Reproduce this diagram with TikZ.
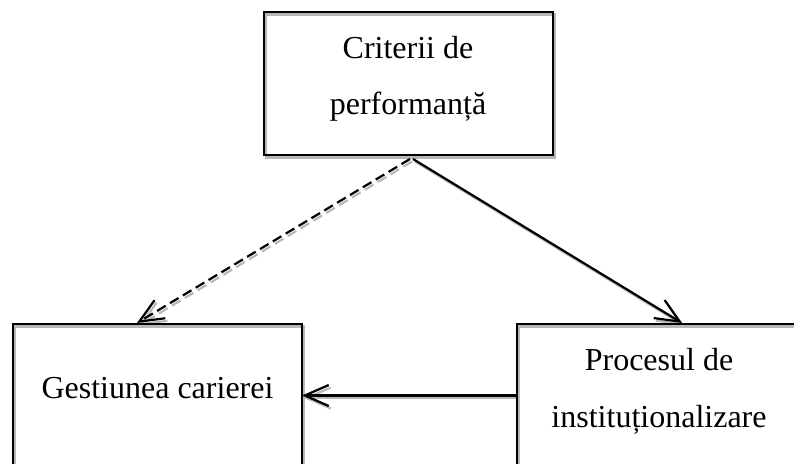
\documentclass[tikz,border=0pt]{standalone}
\usepackage{fontspec}
\setmainfont{Liberation Serif}
\usetikzlibrary{arrows.meta,calc}
\tikzset{
  box/.style={rectangle, minimum width=289pt, minimum height=143pt, inner sep=0pt, outer sep=0pt},
  lbl/.style={font=\fontsize{32}{38}\selectfont, inner sep=0pt, anchor=base},
  edge/.style={line width=2.2pt},
  arr/.style={edge, -{Straight Barb[length=24pt,width=21pt]}},
  dsh/.style={arr, dash pattern=on 10pt off 5pt},
}
\newcommand{\drawall}[1]{%
  \draw[edge,#1] (top.south west) rectangle (top.north east);
  \draw[edge,#1] (left.south west) rectangle (left.north east);
  \draw[edge,#1] (right.south west) rectangle (right.north east);
  \draw[dsh,#1] (s1) -- (e1);
  \draw[arr,#1] (s2) -- (e2);
  \draw[arr,#1] (right.west) -- (left.east);
}
\begin{document}
\begin{tikzpicture}[x=1pt,y=-1pt]
\useasboundingbox (0,0) rectangle (794,463);
\clip (0,0) rectangle (794,463);
\node[box] (top) at (408.5,83.5) {};
\node[box] (left) at (157.5,395.5) {};
\node[box] (right) at (661.5,395.5) {};
\coordinate (s1) at ($(top.south)+(1.5,4)$);
\coordinate (s2) at ($(top.south)+(4.5,4)$);
\coordinate (e1) at ($(left.north)+(-20.5,-1)$);
\coordinate (e2) at ($(right.north)+(20.5,-1)$);
\begin{scope}[transform canvas={shift={(2pt,-2.5pt)}}]
  \drawall{black!28}
\end{scope}
\drawall{black}
\node[lbl] (t1) at (408,58) {Criterii de};
\node[lbl] (t2) at (408,114) {performanță};
\node[lbl] (t3) at (157.5,398) {Gestiunea carierei};
\node[lbl] (t4) at (659,370) {Procesul de};
\node[lbl] (t5) at (659,427) {instituționalizare};
\end{tikzpicture}
\end{document}
